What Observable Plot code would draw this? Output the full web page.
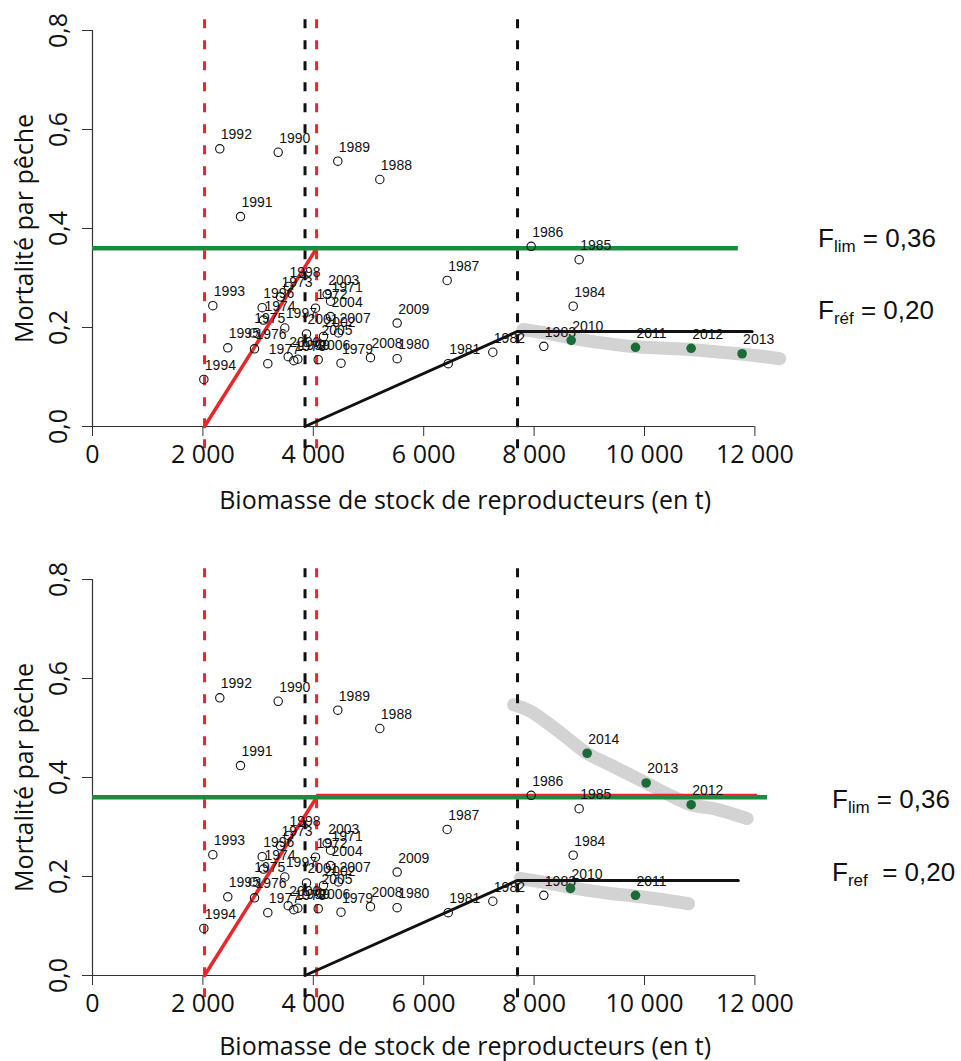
<!DOCTYPE html>
<html><head><meta charset="utf-8">
<script src="https://cdn.jsdelivr.net/npm/d3@7"></script>
<script src="https://cdn.jsdelivr.net/npm/@observablehq/plot@0.6"></script>
<style>
body{margin:0;background:#fff;}
#wrap{position:relative;width:961px;height:1061px;overflow:hidden;}
#wrap svg{display:block;}
.flab{position:absolute;font-family:"Liberation Sans",Arial,sans-serif;font-size:26px;line-height:26px;color:#111;white-space:pre;}
.flab sub{font-size:17px;line-height:0;vertical-align:-5px;}
</style></head><body><div id="wrap"></div>
<script>
// ---- historical points (same in both panels)
const histYears = [1971,1972,1973,1974,1975,1976,1977,1978,1979,1980,1981,1982,1983,1984,1985,1986,1987,1988,1989,1990,1991,1992,1993,1994,1995,1996,1997,1998,1999,2000,2001,2002,2003,2004,2005,2006,2007,2008,2009];
const histSSB = [4312,4040,3406,3098,2911,2935,3176,3647,4502,5519,6444,7252,8176,8708,8816,7947,6425,5205,4444,3364,2681,2306,2180,2017,2451,3074,3484,3551,3719,3545,3877,4185,4251,4312,4130,4089,4457,5036,5519];
const histF = [0.253,0.239,0.262,0.215,0.189,0.157,0.127,0.133,0.128,0.137,0.127,0.150,0.162,0.243,0.337,0.364,0.295,0.499,0.536,0.554,0.424,0.561,0.244,0.095,0.159,0.240,0.199,0.283,0.136,0.141,0.187,0.182,0.267,0.222,0.166,0.135,0.189,0.139,0.209];

// ---- projections, top panel
const projYearsA = [2010,2011,2012,2013];
const projSSBA = [8672,9837,10845,11768];
const projFA = [0.174,0.160,0.158,0.147];
const bandA_SSB = [7800,8200,8700,9300,9850,10400,10850,11400,11800,12450];
const bandA_F = [0.196,0.189,0.178,0.168,0.161,0.158,0.155,0.150,0.146,0.137];

// ---- projections, bottom panel
const projYearsB = [2010,2011,2012,2013,2014];
const projSSBB = [8659,9837,10845,10030,8961];
const projFB = [0.176,0.162,0.345,0.389,0.449];
const bandB1_SSB = [7750,8200,8700,9300,9850,10400,10800];
const bandB1_F = [0.196,0.188,0.177,0.167,0.160,0.152,0.145];
const bandB2_SSB = [7630,7935,8540,8960,9440,10030,10410,10845,11255,11860];
const bandB2_F = [0.547,0.534,0.485,0.449,0.422,0.389,0.367,0.345,0.337,0.317];

// ---- reference points
const redDashSSB = [2030, 4060];
const blackDashSSB = [3850, 7700];
const redRuleSSB = [2030, 4060];
const redRuleF = [0, 0.36];
const blackRuleSSB = [3850, 7700];
const blackRuleF = [0, 0.192];
const Flim = 0.36;
const Fref = 0.192;

// ---- axes
const xTicks = [0,2000,4000,6000,8000,10000,12000];
const yTicks = [0,0.2,0.4,0.6,0.8];
const xTitle = "Biomasse de stock de reproducteurs (en t)";
const yTitle = "Mortalité par pêche";

const fmtX = d => d === 0 ? "0" : d3.format(",")(d).replace(/,/g, " ");
const fmtY = d => d.toFixed(1).replace(".", ",");
const zip = (a, b) => a.map((v, i) => ({x: v, y: b[i]}));

function panel(cfg) {
  const hist = histYears.map((yr, i) => ({year: yr, x: histSSB[i], y: histF[i]}));
  const proj = cfg.projYears.map((yr, i) => ({year: yr, x: cfg.projSSB[i], y: cfg.projF[i]}));
  const lab = {fontFamily: "Liberation Sans, Arial, sans-serif", fontSize: 14, fill: "#111", textAnchor: "start", dx: 1, dy: -14};
  const marks = [
    ...cfg.bands.map(b => Plot.line(zip(b[0], b[1]), {x: "x", y: "y", stroke: "#d3d3d3", strokeWidth: 13, strokeLinecap: "round", strokeLinejoin: "round", curve: "catmull-rom"})),
    Plot.ruleX(redDashSSB, {x: d => d, y1: -0.045, y2: 0.84, stroke: "#e8262b", strokeWidth: 3, strokeDasharray: "9,12"}),
    Plot.ruleX(blackDashSSB, {x: d => d, y1: -0.045, y2: 0.84, stroke: "#111", strokeWidth: 3, strokeDasharray: "9,12"}),
    Plot.ruleY([0], {x1: 0, x2: 12000, stroke: "#333", strokeWidth: 1.2}),
    Plot.ruleX([0], {y1: 0, y2: 0.8, stroke: "#333", strokeWidth: 1.2}),
    Plot.axisX({ticks: xTicks, tickSize: 10, tickPadding: 9, tickFormat: fmtX, fontSize: 25, label: null, stroke: "#333"}),
    Plot.axisY({ticks: yTicks, tickSize: 10, tickFormat: () => "", label: null, stroke: "#333"}),
    Plot.text(yTicks, {x: d => 0, y: d => d, text: fmtY, rotate: -90, dx: -34, fontSize: 25, textAnchor: "middle", fill: "#111"}),
    Plot.text([6750], {x: d => d, y: d => 0, text: () => xTitle, dy: cfg.titleDy, fontSize: 25, textAnchor: "middle", fill: "#111"}),
    Plot.text([0.4], {x: d => 0, y: d => d, text: () => yTitle, rotate: -90, dx: -68, fontSize: 25, textAnchor: "middle", fill: "#111"}),
    ...(cfg.redH ? [Plot.ruleY([Flim], {y: d => d, x1: redRuleSSB[1], x2: cfg.redH, stroke: "#e8262b", strokeWidth: 2, dy: -2.5})] : []),
    Plot.line(zip(redRuleSSB, redRuleF), {x: "x", y: "y", stroke: "#e8262b", strokeWidth: 3.5}),
    Plot.line(zip([...blackRuleSSB, cfg.blackEnd], [...blackRuleF, Fref]), {x: "x", y: "y", stroke: "#111", strokeWidth: 3}),
    Plot.ruleY([Flim], {y: d => d, x1: 0, x2: cfg.greenEnd, stroke: "#1d8a3e", strokeWidth: 4.5}),
    Plot.dot(hist, {x: "x", y: "y", r: 4.2, stroke: "#111", strokeWidth: 1.1, fill: "none"}),
    Plot.text(hist, {x: "x", y: "y", text: d => String(d.year), ...lab}),
    Plot.dot(proj, {x: "x", y: "y", r: 4.8, fill: "#1a6b35", stroke: "none"}),
    Plot.text(proj, {x: "x", y: "y", text: d => String(d.year), ...lab})
  ];
  return Plot.plot({
    width: 961, height: cfg.height,
    marginLeft: 92, marginRight: 179, marginTop: 30, marginBottom: cfg.height - 426,
    x: {domain: [0, 12500]},
    y: {domain: [0, 0.8]},
    style: {fontFamily: "'Open Sans', sans-serif", fontSize: "25px", background: "#fff", color: "#111", overflow: "visible"},
    marks
  });
}

const wrap = document.getElementById("wrap");
wrap.append(panel({
  height: 549, titleDy: 74,
  projYears: projYearsA, projSSB: projSSBA, projF: projFA,
  bands: [[bandA_SSB, bandA_F]],
  greenEnd: 11700, blackEnd: 11950, redH: null
}));
wrap.append(panel({
  height: 512, titleDy: 71,
  projYears: projYearsB, projSSB: projSSBB, projF: projFB,
  bands: [[bandB1_SSB, bandB1_F], [bandB2_SSB, bandB2_F]],
  greenEnd: 12230, blackEnd: 11700, redH: 12050
}));

const fLabels = [
  {html: "F<sub>lim</sub> = 0,36", left: 818, top: 225},
  {html: "F<sub>réf</sub> = 0,20", left: 818, top: 297},
  {html: "F<sub>lim</sub> = 0,36", left: 832, top: 786},
  {html: "F<sub>ref</sub>&nbsp; = 0,20", left: 832, top: 859}
];
for (const f of fLabels) {
  const d = document.createElement("div");
  d.className = "flab";
  d.style.left = f.left + "px";
  d.style.top = f.top + "px";
  d.innerHTML = f.html;
  wrap.append(d);
}
</script>
</body></html>
